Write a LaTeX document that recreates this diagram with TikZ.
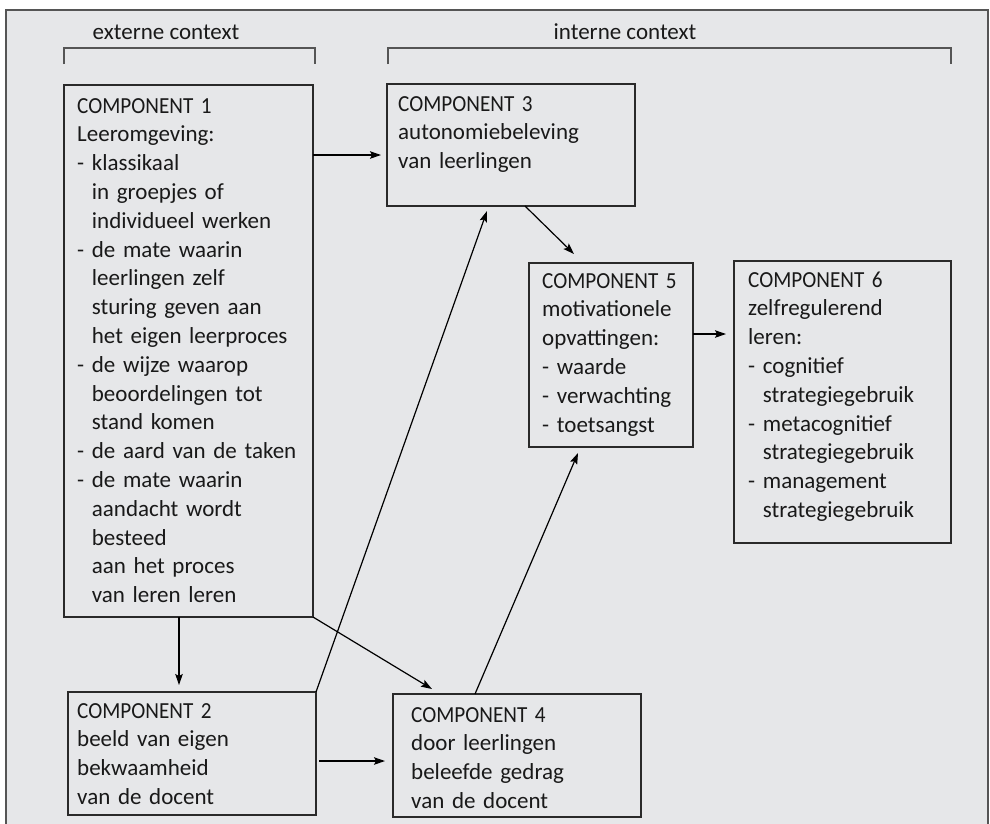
\documentclass[tikz,border=0pt]{standalone}
\usepackage{fontspec}
\setmainfont{Carlito}
\newfontfamily\compfont[FakeStretch=0.92]{Carlito}
\usetikzlibrary{arrows.meta}
\definecolor{bg}{HTML}{E6E7E9}
\definecolor{frm}{HTML}{555555}
\definecolor{ln}{HTML}{2A2A2A}
\newcommand{\cmpn}[1]{{\compfont COMPONENT #1}}
\begin{document}
\begin{tikzpicture}[x=1pt,y=-1pt,
  box/.style={draw=ln, line width=1.5pt, fill=bg, inner sep=0pt, outer sep=0pt, anchor=north west},
  txt/.style={inner sep=0pt, anchor=base west, align=left, font=\fontsize{23}{28.8}\selectfont, text=black!90},
  arr/.style={draw=black, line width=1.2pt, -{Stealth[length=11pt,width=7.5pt,inset=2pt]}},
  brk/.style={draw=frm, line width=2pt},
  lab/.style={inner sep=0pt, anchor=base, font=\fontsize{23}{28.8}\selectfont, text=black!90}]
\useasboundingbox (0,0) rectangle (990,823);
\clip (0,0) rectangle (990,823);
\fill[white] (0,0) rectangle (990,823);
\draw[draw=frm, fill=bg, line width=2.5pt] (6,10) rectangle (988,860);
% context brackets
\draw[brk] (64,64) -- (64,48) -- (315,48) -- (315,64);
\draw[brk] (388,64) -- (388,48) -- (951,48) -- (951,64);
\node[lab] (lext) at (166,39) {externe context};
\node[lab] (lint) at (625,39) {interne context};
% boxes
\node[box, minimum width=249pt, minimum height=532pt] (b1) at (64,85) {};
\node[box, minimum width=248pt, minimum height=123pt] (b2) at (68,692) {};
\node[box, minimum width=248pt, minimum height=122pt] (b3) at (387,84) {};
\node[box, minimum width=248pt, minimum height=123pt] (b4) at (393,694) {};
\node[box, minimum width=164pt, minimum height=184pt] (b5) at (529,263) {};
\node[box, minimum width=217pt, minimum height=282pt] (b6) at (734,261) {};
% texts
\node[txt, text width=230pt] (t1) at (77,113) {\cmpn{1}\\Leeromgeving:\\- klassikaal\\\phantom{- }in groepjes of\\\phantom{- }individueel werken\\- de mate waarin\\\phantom{- }leerlingen zelf\\\phantom{- }sturing geven aan\\\phantom{- }het eigen leerproces\\- de wijze waarop\\\phantom{- }beoordelingen tot\\\phantom{- }stand komen\\- de aard van de taken\\- de mate waarin\\\phantom{- }aandacht wordt\\\phantom{- }besteed\\\phantom{- }aan het proces\\\phantom{- }van leren leren};
\node[txt, text width=230pt] (t2) at (77,718) {\cmpn{2}\\beeld van eigen\\bekwaamheid\\van de docent};
\node[txt, text width=230pt] (t3) at (398,111) {\cmpn{3}\\autonomiebeleving\\van leerlingen};
\node[txt, text width=220pt] (t4) at (411,722) {\cmpn{4}\\door leerlingen\\beleefde gedrag\\van de docent};
\node[txt, text width=149pt] (t5) at (542,288) {\mbox{\cmpn{5}}\\motivationele\\opvattingen:\\- waarde\\- verwachting\\- toetsangst};
\node[txt, text width=195pt] (t6) at (748,287) {\cmpn{6}\\zelfregulerend\\leren:\\- cognitief\\\phantom{- }strategiegebruik\\- metacognitief\\\phantom{- }strategiegebruik\\- management\\\phantom{- }strategiegebruik};
% connectors
\draw[arr] ([shift={(0,70)}]b1.north east) -- ([shift={(-6,71)}]b3.north west);
\draw[arr] ([shift={(138,0)}]b3.south west) -- ([shift={(45,-9)}]b5.north west);
\draw[arr] ([shift={(0,71)}]b5.north east) -- ([shift={(-8,73)}]b6.north west);
\draw[arr] (b2.north east) -- ([shift={(100,5)}]b3.south west);
\draw[arr] ([shift={(82,0)}]b4.north west) -- ([shift={(49,6)}]b5.south west);
\draw[arr] ([shift={(115,0)}]b1.south west) -- ([shift={(111,-7)}]b2.north west);
\draw[arr] (b1.south east) -- ([shift={(39,-5)}]b4.north west);
\draw[arr] ([shift={(3,69)}]b2.north east) -- ([shift={(-8,67)}]b4.north west);
\end{tikzpicture}
\end{document}
